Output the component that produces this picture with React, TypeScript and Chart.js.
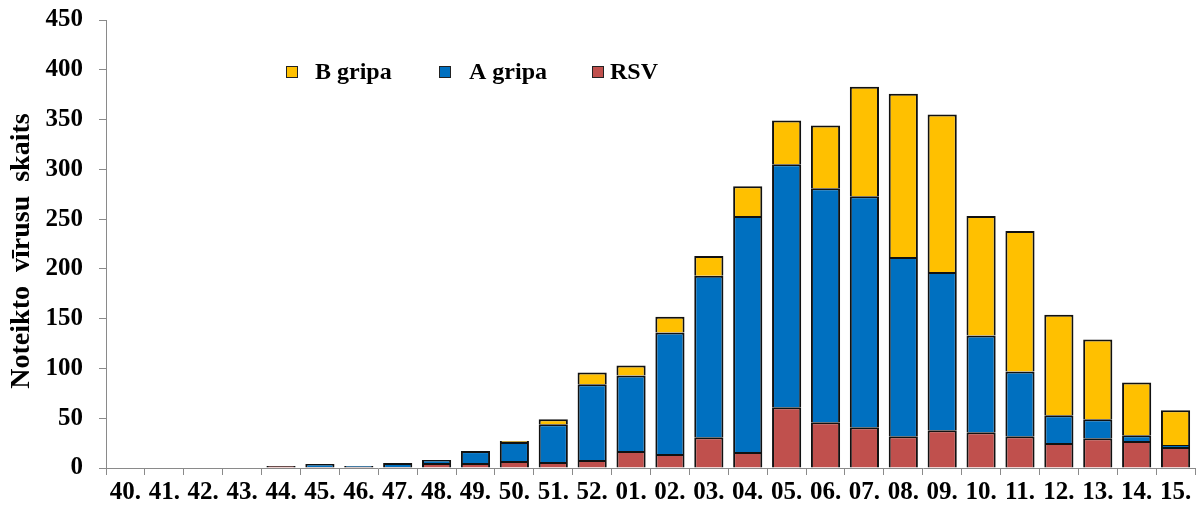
import React, { useEffect, useRef } from "react";
import { Chart, registerables } from "chart.js";

Chart.register(...registerables);

const weeks = [
  "40.", "41.", "42.", "43.", "44.", "45.", "46.", "47.", "48.", "49.", "50.", "51.", "52.",
  "01.", "02.", "03.", "04.", "05.", "06.", "07.", "08.", "09.", "10.", "11.", "12.", "13.", "14.", "15.",
];

const rsv = [0, 0, 0, 0, 2, 1, 1, 1, 5, 5, 7, 6, 8, 17, 14, 31, 16, 61, 46, 41, 32, 38, 36, 32, 25, 30, 27, 21];
const aGripa = [0, 0, 0, 0, 0, 3, 1, 4, 3, 12, 19, 38, 76, 76, 122, 162, 237, 244, 235, 232, 180, 159, 97, 65, 28, 19, 6, 2];
const bGripa = [0, 0, 0, 0, 0, 0, 0, 0, 0, 0, 1, 5, 12, 10, 16, 20, 30, 44, 63, 110, 164, 158, 120, 141, 101, 80, 53, 35];

const seriesNames = ["RSV", "A gripa", "B gripa"];
const yAxisTitle = "Noteikto  vīrusu  skaits  ";
const yMin = 0;
const yMax = 450;
const yStep = 50;

const COLORS = { rsv: "#C0504D", a: "#0070C0", b: "#FFC000" };
const FONT = "'Liberation Serif', 'Times New Roman', Times, serif";

const legendPlugin = {
  id: "customLegend",
  afterDraw(chart: any) {
    const ctx = chart.ctx as CanvasRenderingContext2D;
    const items = [
      { label: seriesNames[2], color: COLORS.b, boxX: 286, textX: 315 },
      { label: seriesNames[1], color: COLORS.a, boxX: 439, textX: 469 },
      { label: seriesNames[0], color: COLORS.rsv, boxX: 592, textX: 610 },
    ];
    const cy = 72;
    ctx.save();
    ctx.font = `bold 24px ${FONT}`;
    ctx.textBaseline = "middle";
    ctx.textAlign = "left";
    for (const it of items) {
      ctx.fillStyle = it.color;
      ctx.fillRect(it.boxX, cy - 6, 12, 12);
      ctx.strokeStyle = "#222";
      ctx.lineWidth = 1;
      ctx.strokeRect(it.boxX + 0.5, cy - 5.5, 11, 11);
      ctx.fillStyle = "#000";
      ctx.fillText(it.label, it.textX, cy + 1);
    }
    ctx.restore();
  },
};

export default function App() {
  const ref = useRef<HTMLCanvasElement>(null);

  useEffect(() => {
    if (!ref.current) return;
    const common = {
      borderColor: "#111",
      borderWidth: { top: 2, bottom: 0, left: 2, right: 2 },
      borderSkipped: false,
      barPercentage: 0.75,
      categoryPercentage: 1,
      stack: "s",
    };
    const chart = new Chart(ref.current, {
      type: "bar",
      data: {
        labels: weeks,
        datasets: [
          { label: seriesNames[0], data: rsv, backgroundColor: COLORS.rsv, ...common },
          { label: seriesNames[1], data: aGripa, backgroundColor: COLORS.a, ...common },
          { label: seriesNames[2], data: bGripa, backgroundColor: COLORS.b, ...common },
        ],
      } as any,
      options: {
        animation: false,
        responsive: false,
        devicePixelRatio: 1,
        layout: { padding: { top: 20, right: 5, bottom: 0, left: 0 } },
        plugins: { legend: { display: false }, tooltip: { enabled: false } },
        scales: {
          x: {
            stacked: true,
            grid: {
              offset: true,
              drawOnChartArea: false,
              drawTicks: true,
              tickLength: 7,
              color: "#8a8a8a",
            },
            border: { color: "#8a8a8a", width: 1 },
            ticks: {
              color: "#000",
              font: { family: FONT, size: 25, weight: "bold" },
              padding: 3,
              maxRotation: 0,
              autoSkip: false,
            },
            afterFit: (scale: any) => {
              scale.height = 40;
              scale.paddingLeft = 0;
              scale.paddingRight = 0;
            },
          },
          y: {
            stacked: true,
            min: yMin,
            max: yMax,
            grid: {
              drawOnChartArea: false,
              drawTicks: true,
              tickLength: 7,
              color: "#8a8a8a",
            },
            border: { color: "#8a8a8a", width: 1 },
            ticks: {
              stepSize: yStep,
              color: "#000",
              font: { family: FONT, size: 25, weight: "bold" },
              padding: 16,
            },
            title: {
              display: true,
              text: yAxisTitle,
              color: "#000",
              font: { family: FONT, size: 28, weight: "bold" },
              padding: { top: 5, bottom: 0 },
            },
            afterFit: (scale: any) => {
              scale.width = 106;
              scale.paddingTop = 0;
              scale.paddingBottom = 0;
            },
          },
        },
      } as any,
      plugins: [legendPlugin],
    });
    return () => chart.destroy();
  }, []);

  return (
    <div style={{ position: "fixed", left: 0, top: 0, width: 1200, height: 508, background: "#fff" }}>
      <canvas ref={ref} width={1200} height={508} style={{ width: 1200, height: 508, display: "block" }} />
    </div>
  );
}
